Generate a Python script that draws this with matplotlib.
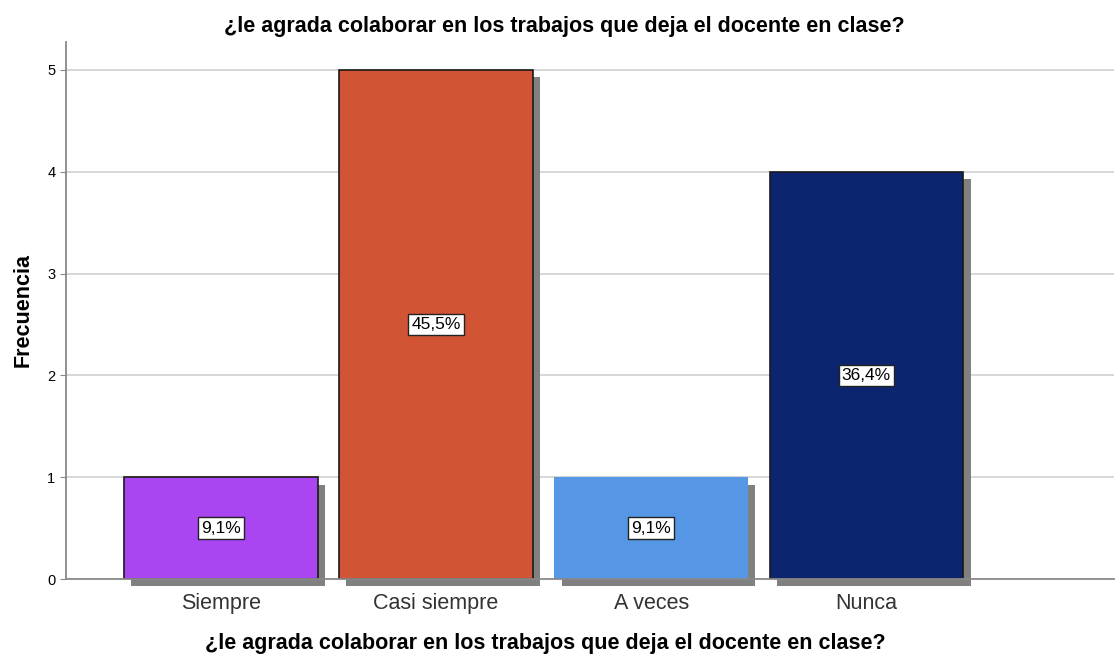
import matplotlib.pyplot as plt
from matplotlib.patches import Rectangle

plt.rcParams['font.family'] = ['Liberation Sans', 'DejaVu Sans']

# data
categorias = ["Siempre", "Casi siempre", "A veces", "Nunca"]
frecuencias = [1, 5, 1, 4]
porcentajes = ["9,1%", "45,5%", "9,1%", "36,4%"]
colores = ["#A946F1", "#D15434", "#5697E5", "#0B256E"]
titulo = "¿le agrada colaborar en los trabajos que deja el docente en clase?"

fig = plt.figure(figsize=(11.15, 6.55), dpi=100)
ax = fig.add_axes([0.059, 0.116, 0.94, 0.82])

ax.set_xlim(-0.72, 4.15)
ax.set_ylim(0, 5.275)

ancho = 0.9
dx, dy = 0.034, 0.072  # shadow offset

# gridlines
for v in range(1, 6):
    ax.axhline(v, color="#d4d4d4", lw=1.3, zorder=0)

for i, (f, c) in enumerate(zip(frecuencias, colores)):
    sombra = Rectangle((i - ancho / 2 + dx, -dy), ancho, f, facecolor="#808080",
                       edgecolor="none", zorder=1, clip_on=False)
    ax.add_patch(sombra)
    ec = "none" if categorias[i] == "A veces" else "#1a1a1a"
    ax.bar(i, f, width=ancho, color=c, edgecolor=ec, linewidth=1.2, zorder=2)
    ax.text(i, f / 2, porcentajes[i], ha="center", va="center", fontsize=12.5,
            color="black", zorder=3,
            bbox=dict(boxstyle="square,pad=0.18", facecolor="white", edgecolor="#222222", lw=1))

ax.set_xticks(range(len(categorias)))
ax.set_xticklabels(categorias, fontsize=15.5, color="#333333")
ax.set_yticks(range(0, 6))
ax.tick_params(axis="y", labelsize=10.5, length=4, color="#888888")
ax.tick_params(axis="x", length=0, pad=10)

for s in ["top", "right"]:
    ax.spines[s].set_visible(False)
ax.spines["left"].set_color("#888888")
ax.spines["bottom"].set_color("#888888")
ax.spines["left"].set_linewidth(1.3)
ax.spines["bottom"].set_linewidth(1.3)

ax.set_ylabel("Frecuencia", fontsize=15.5, fontweight="bold", labelpad=10)
fig.text(0.489, 0.018, titulo, fontsize=15.5, fontweight="bold", ha="center", va="center")
fig.text(0.506, 0.959, titulo, fontsize=15.5, fontweight="bold", ha="center", va="center")

fig.savefig("out.png", dpi=100)
